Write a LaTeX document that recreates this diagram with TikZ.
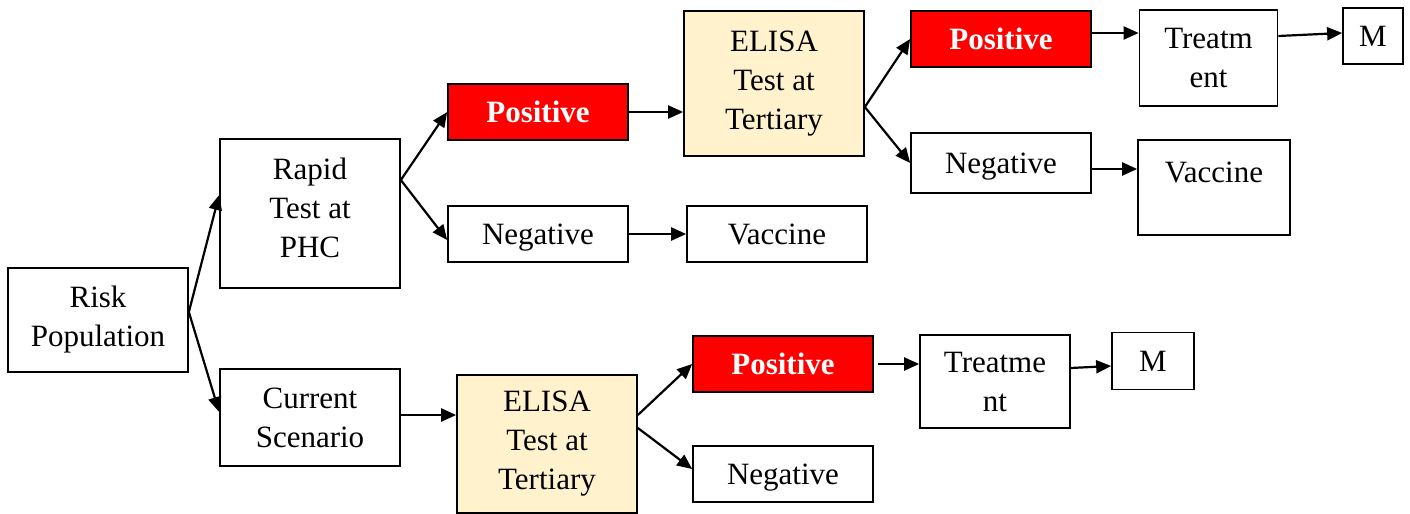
\documentclass[tikz,border=0pt]{standalone}
\usepackage{fontspec}
\setmainfont{Liberation Serif}
\usepackage{xcolor}
\usepackage{tikz}
\usetikzlibrary{arrows.meta}

\definecolor{elisatan}{HTML}{FFF2CC}

\begin{document}
\begin{tikzpicture}[x=0.5pt,y=-0.5pt,
nodes={align=center,font=\fontsize{15.5}{19.5}\selectfont},
box/.style={draw,line width=0.85pt,inner sep=2pt},
onebox/.style={box,text depth=0pt},
posbox/.style={onebox,fill=red,text=white,font=\fontsize{15.5}{19.5}\selectfont\bfseries},
elisabox/.style={box,fill=elisatan},
arr/.style={line width=1.1pt,-{Triangle[length=7.5pt,width=6.5pt]}}]

\useasboundingbox (0,0) rectangle (1410,514);

% Nodes
\node[box,minimum width=90pt,minimum height=52pt] (risk) at (98,320) {Risk\\Population};
\node[box,minimum width=90pt,minimum height=74.5pt,text depth=6pt] (rapid) at (310,213.5) {Rapid\\Test at\\PHC}; % Option 1
\node[box,minimum width=90pt,minimum height=48.5pt] (current) at (310,417.5) {Current\\Scenario}; % Option 2

% Rapid test branch
\node[posbox,minimum width=90pt,minimum height=28pt] (posA) at (538,112) {Positive};
\node[onebox,minimum width=90pt,minimum height=28pt] (negA) at (538,234) {Negative};
\node[onebox,minimum width=90pt,minimum height=28pt] (vacA) at (777,234) {Vaccine};
\node[elisabox,minimum width=90pt,minimum height=72.5pt] (elisaA) at (774,83.5) {ELISA\\Test at\\Tertiary};
\node[posbox,minimum width=90pt,minimum height=28pt] (posB) at (1001,39) {Positive};
\node[onebox,minimum width=90pt,minimum height=30pt] (negB) at (1001,163) {Negative};
\node[box,minimum width=69pt,minimum height=48pt] (treatA) at (1208.5,58) {Treatm\\ent};
\node[onebox,minimum width=30pt,minimum height=28pt] (mA) at (1373,36) {M};
\node[box,minimum width=76pt,minimum height=47.5pt,text height=10.5pt,text depth=15.5pt] (vacB) at (1214,187.5) {Vaccine};

% Current scenario branch
\node[elisabox,minimum width=90pt,minimum height=69pt] (elisaB) at (547,444) {ELISA\\Test at\\Tertiary};
\node[posbox,minimum width=90pt,minimum height=28pt] (posC) at (783,364) {Positive};
\node[onebox,minimum width=90pt,minimum height=28pt] (negC) at (783,474) {Negative};
\node[box,minimum width=75pt,minimum height=46.5pt] (treatB) at (995,381.5) {Treatme\\nt};
\node[onebox,minimum width=41pt,minimum height=28.5pt] (mB) at (1153,361) {M};

% Arrows
\draw[arr] ([yshift=4pt]risk.east) -- ([yshift=9.25pt]rapid.west);
\draw[arr] ([yshift=4pt]risk.east) -- ([yshift=2.75pt]current.west);
\draw[arr] ([yshift=16.75pt]rapid.east) -- (posA.west);
\draw[arr] ([yshift=16.75pt]rapid.east) -- ([yshift=-3pt]negA.west);
\draw[arr] (posA.east) -- (posA.east -| elisaA.west);
\draw[arr] (negA.east) -- (vacA.west);
\draw[arr] ([yshift=-11.75pt]elisaA.east) -- (posB.west);
\draw[arr] ([yshift=-11.75pt]elisaA.east) -- (negB.west);
\draw[arr] ([yshift=3pt]posB.east) -- ([yshift=3pt]posB.east -| treatA.west);
\draw[arr] ([yshift=11pt]treatA.east) -- ([yshift=1.5pt]mA.west);
\draw[arr] ([yshift=-3pt]negB.east) -- ([yshift=-3pt]negB.east -| vacB.west);
\draw[arr] ([yshift=1.25pt]current.east) -- ([yshift=1.25pt]current.east -| elisaB.west);
\draw[arr] ([yshift=14.5pt]elisaB.east) -- (posC.west);
\draw[arr] ([yshift=8pt]elisaB.east) -- ([yshift=2.5pt]negC.west);
\draw[arr] ([xshift=2pt]posC.east) -- (posC.east -| treatB.west);
\draw[arr] ([yshift=6.75pt]treatB.east) -- ([yshift=-2.5pt]mB.west);

\end{tikzpicture}
\end{document}
